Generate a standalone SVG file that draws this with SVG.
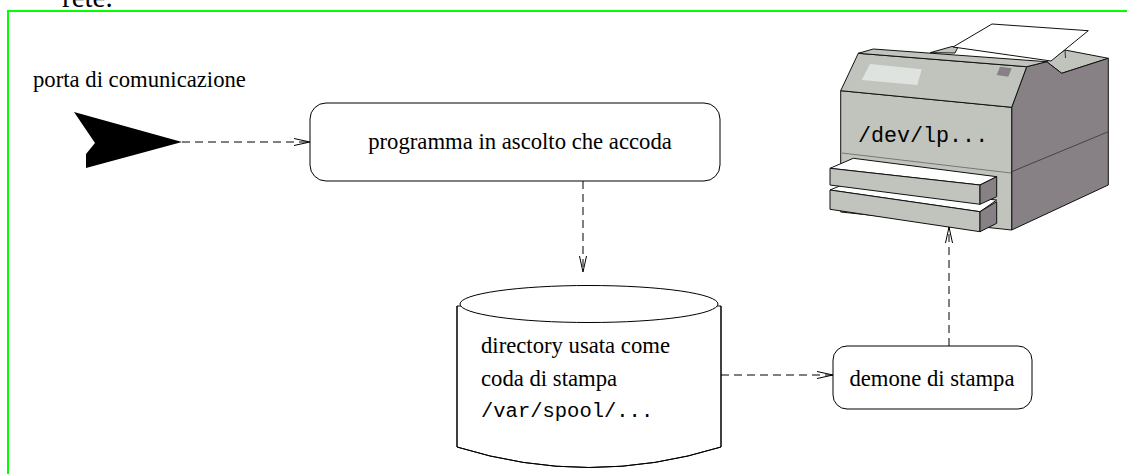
<svg xmlns="http://www.w3.org/2000/svg" width="1127" height="474" viewBox="0 0 1127 474">
  <style>
    .serif { font-family: "Liberation Serif", "Times New Roman", serif; font-size: 22.7px; fill: #000; }
    .mono { font-family: "Liberation Mono", "Courier New", monospace; fill: #000; }
    .box { fill: #fff; stroke: #000; stroke-width: 1; }
    .link { fill: none; stroke: #000; stroke-width: 1; stroke-dasharray: 8 5; marker-end: url(#openArrow); }
    .pr { stroke: #111; stroke-width: 1; stroke-linejoin: round; }
    .light { fill: #c0c4bd; }
    .dark { fill: #878185; }
  </style>
  <defs>
    <marker id="openArrow" viewBox="0 0 16 8" refX="16" refY="4" markerWidth="16" markerHeight="8" markerUnits="userSpaceOnUse" orient="auto">
      <path d="M0,0.5 L16,4 L0,7.5" fill="none" stroke="#000" stroke-width="1" stroke-dasharray="none"/>
    </marker>
  </defs>

  <rect width="1127" height="474" fill="#fff"/>

  <!-- trailing word of the surrounding page text -->
  <text x="62" y="7" font-family="Liberation Serif, serif" font-size="29">rete.</text>

  <!-- frame -->
  <path d="M8,474 V11 H1127" fill="none" stroke="#00ff00" stroke-width="2"/>

  <!-- communication port -->
  <g id="port">
    <text class="serif" x="33" y="87">porta di comunicazione</text>
    <polygon points="74,112 182,142 86,168 86,154 95,143" fill="#000"/>
  </g>

  <!-- listening program -->
  <g id="listener">
    <rect class="box" x="310" y="103" width="410" height="78" rx="16" ry="16"/>
    <text class="serif" x="520" y="149" text-anchor="middle">programma in ascolto che accoda</text>
  </g>

  <!-- spool directory -->
  <g id="spool">
    <path class="box" d="M457,306 V447 Q589,488 721,447 V306 Z" stroke="none"/>
    <path d="M457,306 V447 Q589,488 721,447 V306" fill="none" stroke="#000"/>
    <ellipse class="box" cx="589" cy="304" rx="129" ry="18.5"/>
    <text class="serif" x="481" y="353">directory usata come</text>
    <text class="serif" x="481" y="386">coda di stampa</text>
    <text class="mono" x="481" y="417" font-size="20.5">/var/spool/...</text>
  </g>

  <!-- print daemon -->
  <g id="daemon">
    <rect class="box" x="833" y="346" width="199" height="63" rx="14" ry="14"/>
    <text class="serif" x="932" y="386" text-anchor="middle">demone di stampa</text>
  </g>

  <!-- printer device -->
  <g id="printer">
    <!-- paper output tray behind the lid -->
    <polygon class="pr light" points="1046.7,61.7 1065,50 1108.3,58.3 1061.7,73.3"/>
    <line x1="1065" y1="50" x2="1065.5" y2="58" stroke="#333" stroke-width="1"/>
    <!-- side -->
    <polygon class="pr dark" points="1011.7,107.3 1026.7,66.7 1046.7,61.7 1061.7,73.3 1108.3,58.3 1108.3,185 1011.7,230"/>
    <line x1="1011.7" y1="171.7" x2="1108.3" y2="131.7" stroke="#444" stroke-width="1"/>
    <!-- front -->
    <polygon class="pr light" points="840.7,90.7 1011.7,107.3 1011.7,230 840.7,212"/>
    <line x1="842" y1="153" x2="1011" y2="173" stroke="#777" stroke-width="1"/>
    <!-- lid -->
    <polygon class="pr light" points="840.7,90.7 858.3,53.3 1026.7,66.7 1011.7,107.3"/>
    <polygon class="pr light" points="858.3,53.3 873.3,49 1046.7,61.7 1026.7,66.7"/>
    <polygon points="870,64 921.7,69.3 917.3,85 861.7,80" fill="#dfe3df"/>
    <polygon points="1000,66.7 1011.7,68.3 1008.3,76.7 996.7,75" fill="#878185"/>
    <!-- paper -->
    <polygon class="pr light" points="930,52.7 952,46.5 958,47 955,53"/>
    <polygon class="pr" fill="#fff" points="953,47 992,24 1088.3,30.7 1051,61"/>
    <text class="mono" x="858" y="142" font-size="21.7" fill="#222">/dev/lp...</text>
    <!-- lower paper drawer -->
    <polygon class="pr" fill="#fff" points="830,190 842,185 996.7,200 980,211.7"/>
    <polygon class="pr light" points="830,190 980,211.7 980,231.7 830,209.3"/>
    <polygon class="pr dark" points="980,211.7 996.7,201.7 996.7,223.3 980,231.7"/>
    <!-- upper paper drawer -->
    <polygon class="pr" fill="#fff" points="830,168.3 853.3,158.3 996.7,176.7 980,185"/>
    <polygon class="pr light" points="830,168.3 980,185 980,204.3 830,185"/>
    <polygon class="pr dark" points="980,185 996.7,176.7 996.7,196.7 980,204.3"/>
  </g>

  <!-- connectors -->
  <g id="connectors">
    <line class="link" x1="182" y1="142" x2="310" y2="142"/>
    <line class="link" x1="583" y1="181" x2="583" y2="272"/>
    <line class="link" x1="721" y1="375" x2="833" y2="375"/>
    <line class="link" x1="949" y1="346" x2="949" y2="227"/>
  </g>
</svg>
